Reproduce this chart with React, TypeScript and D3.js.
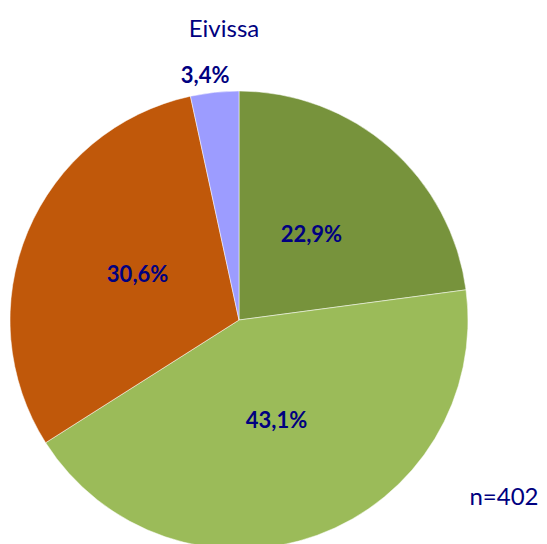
import React from "react";
import * as d3 from "d3";

const categories = ["A", "B", "C", "D"];
const values = [22.9, 43.1, 30.6, 3.4];
const labels = ["22,9%", "43,1%", "30,6%", "3,4%"];
const colors = ["#77933C", "#9BBB59", "#C0580A", "#9C9CFF"];
const title = "Eivissa";
const note = "n=402";

const W = 547, H = 544;
const cx = 239, cy = 320, R = 229;
const FONT = "Lato, 'DejaVu Sans', sans-serif";
const NAVY = "#000080";

export default function App() {
  const pie = d3.pie<number>().sort(null).value((d) => d)(values);
  const arc = d3.arc<d3.PieArcDatum<number>>().innerRadius(0).outerRadius(R);
  const labelArcIn = d3.arc<d3.PieArcDatum<number>>().innerRadius(R * 0.48).outerRadius(R * 0.48);
  const labelArcOut = d3.arc<d3.PieArcDatum<number>>().innerRadius(R * 1.06).outerRadius(R * 1.06);
  return (
    <svg width={W} height={H} style={{ position: "absolute", left: 0, top: 0 }}>
      <rect width={W} height={H} fill="#fff" />
      <g transform={`translate(${cx},${cy})`}>
        {pie.map((p, i) => (
          <path key={categories[i]} d={arc(p) || ""} fill={colors[i]} stroke="#fff" strokeWidth={0.5} />
        ))}
        {pie.map((p, i) => {
          const outside = values[i] < 5;
          const [x, y] = outside ? labelArcOut.centroid(p) : labelArcIn.centroid(p);
          return (
            <text key={"l" + i} x={outside ? x - 8 : x} y={y - 4} textAnchor="middle" dominantBaseline="central"
              fontFamily={FONT} fontWeight="bold" fontSize={22} fill={NAVY}>
              {labels[i]}
            </text>
          );
        })}
      </g>
      <text x={224} y={37} textAnchor="middle" fontFamily={FONT} fontSize={24} fill={NAVY}>{title}</text>
      <text x={504} y={505} textAnchor="middle" fontFamily={FONT} fontSize={24} fill={NAVY}>{note}</text>
    </svg>
  );
}
